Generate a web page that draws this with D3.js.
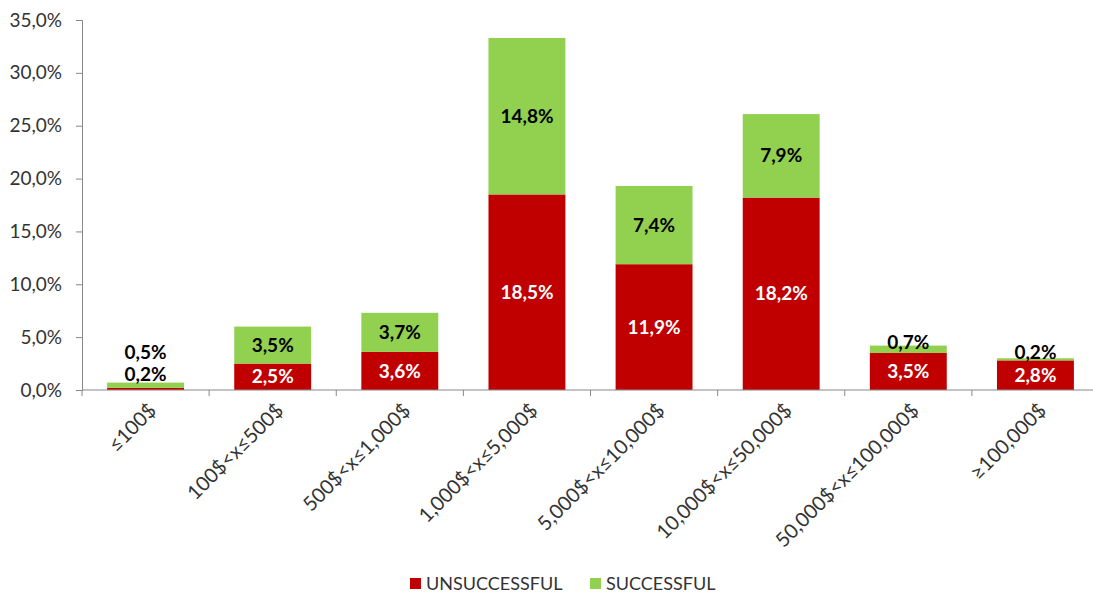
<!DOCTYPE html>
<html><head><meta charset="utf-8">
<script src="https://cdn.jsdelivr.net/npm/d3@7"></script>
<style>body{margin:0;background:#fff}svg{display:block}text{font-family:Lato,"Open Sans",sans-serif}</style>
</head><body><svg id="c" width="1093" height="597"></svg>
<script>
const categories = ["≤100$","100$<x≤500$","500$<x≤1,000$","1,000$<x≤5,000$","5,000$<x≤10,000$","10,000$<x≤50,000$","50,000$<x≤100,000$","≥100,000$"];
const unsuccessful = [0.2,2.5,3.6,18.5,11.9,18.2,3.5,2.8];
const successful = [0.5,3.5,3.7,14.8,7.4,7.9,0.7,0.2];
const seriesNames = ["UNSUCCESSFUL","SUCCESSFUL"];
const colors = ["#C00000","#92D050"];
const yTicks = [0,5,10,15,20,25,30,35];

const svg = d3.select("#c");
const x = d3.scaleBand().domain(categories).range([82,1099]).paddingInner(0.395).paddingOuter(0.1975);
const y = d3.scaleLinear().domain([0,35]).range([390,20]);
const fmt = v => v.toFixed(1).replace(".", ",") + "%";

// y axis
const ya = svg.append("g").attr("transform","translate(82,0)")
  .call(d3.axisLeft(y).tickValues(yTicks).tickSize(6).tickFormat(fmt));
ya.select(".domain").attr("stroke","#888");
ya.selectAll(".tick line").attr("stroke","#888");
ya.selectAll(".tick text").attr("font-size",19).attr("fill","#333").attr("x",-20).attr("font-family","Lato");

// bars
const data = categories.map((c,i)=>({c, u:unsuccessful[i], s:successful[i]}));
const stack = d3.stack().keys(["u","s"])(data);
svg.append("g").selectAll("g").data(stack).join("g").attr("fill",(d,i)=>colors[i])
  .selectAll("rect").data(d=>d).join("rect")
  .attr("x",d=>x(d.data.c)).attr("width",x.bandwidth())
  .attr("y",d=>y(d[1])).attr("height",d=>y(d[0])-y(d[1]));

// x axis
const xa = svg.append("g").attr("transform","translate(0,390)");
xa.append("line").attr("x1",82).attr("x2",1099).attr("stroke","#888");
const step = x.step();
d3.range(categories.length+1).forEach(i=>{
  const xx = 82 + i*step;
  xa.append("line").attr("x1",xx).attr("x2",xx).attr("y1",0).attr("y2",6).attr("stroke","#888");
});
xa.selectAll("text.cat").data(categories).join("text").attr("class","cat")
  .attr("transform",d=>`translate(${x(d)+x.bandwidth()/2+2},${12}) rotate(-45)`)
  .attr("text-anchor","end").attr("dy","0.7em").attr("font-size",20).attr("fill","#333").text(d=>d);

// labels
const lab = svg.append("g").attr("font-weight","bold").attr("font-size",19).attr("text-anchor","middle");
data.forEach(d=>{
  const cx = x(d.c)+x.bandwidth()/2;
  const yTop = y(d.u+d.s);
  const redH = y(0)-y(d.u), greenH = y(d.u)-y(d.u+d.s);
  let uy, sy, uc="#fff";
  if (redH < 15) { uy = yTop-8; sy = yTop-30; uc="#000"; }
  else { uy = (y(0)+y(d.u))/2; sy = greenH < 15 ? (y(d.u)+yTop)/2-7 : (y(d.u)+yTop)/2; }
  lab.append("text").attr("x",cx).attr("y",uy).attr("dy","0.35em").attr("fill",uc).text(fmt(d.u));
  lab.append("text").attr("x",cx).attr("y",sy).attr("dy","0.35em").attr("fill","#000").text(fmt(d.s));
});

// legend
const lg = svg.append("g");
const items = [{n:seriesNames[0],c:colors[0],x:410},{n:seriesNames[1],c:colors[1],x:590}];
items.forEach(it=>{
  lg.append("rect").attr("x",it.x).attr("y",578).attr("width",11).attr("height",11).attr("fill",it.c);
  lg.append("text").attr("x",it.x+16).attr("y",584).attr("dy","0.35em").attr("font-size",18).attr("fill","#333").text(it.n);
});
</script></body></html>
